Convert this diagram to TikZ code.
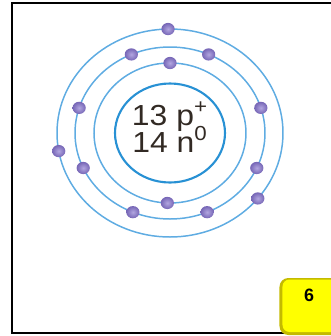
\documentclass[tikz,border=0pt]{standalone}
\usepackage{fontspec}
\setmainfont{Liberation Sans}

\definecolor{shellblue}{RGB}{95,172,226}
\definecolor{coreblue}{RGB}{40,145,212}
\definecolor{electronin}{RGB}{178,166,224}
\definecolor{electronout}{RGB}{118,102,182}
\definecolor{tagyellow}{RGB}{255,255,0}
\definecolor{tagedge}{RGB}{196,186,0}
\definecolor{inktext}{RGB}{50,42,36}

\begin{document}
\begin{tikzpicture}[
              x=0.02cm,y=0.02cm,
              shell/.style={
                  draw=shellblue,
                  line width=0.85pt,
                },
              electron/.style={
                  circle,
                  inner sep=0pt,
                  minimum size=0.245cm,
                  xscale=1.08,
                  shading=radial,
                  inner color=electronin,
                  outer color=electronout,
                },
              count/.style={
                  anchor=base,
                  xscale=1.1,
                  text=inktext,
                  font=\fontsize{16.5}{16}\selectfont,
                }
            ]
            \clip (-170,133) rectangle (161,-203);
            \draw[line width=1.1pt] (-158,130) rectangle (190,-200);

            \coordinate (core) at (0,0);
            \draw[draw=coreblue,line width=1.2pt] (core) ellipse [x radius=55,y radius=49.5];
            \draw[shell] (core) ellipse [x radius=76,y radius=70];
            \draw[shell] (core) ellipse [x radius=95,y radius=86];
            \draw[shell] (core) ellipse [x radius=113,y radius=104];

            \foreach \Angle [count=\Value] in {90,268}
            \node[electron] (k\Value) at (\Angle:76 and 70) {};
            \foreach \Angle [count=\Value] in {17,66,114,163,204,247,293,336}
            \node[electron] (l\Value) at (\Angle:95 and 86) {};
            \foreach \Angle [count=\Value] in {91,190,321}
            \node[electron] (m\Value) at (\Angle:113 and 104) {};

            \node[count] (protons) at (0,8) {13 p\textsuperscript{+}};
            \node[count] (neutrons) at (0,-19) {14 n\textsuperscript{0}};

            \fill[tagedge,rounded corners=5] (109.5,-145) rectangle (190,-202);
            \fill[tagyellow,rounded corners=4] (112.5,-146.5) rectangle (190,-199);
            \node[font=\bfseries\fontsize{10.2}{10}\selectfont] (tag) at (139,-162) {6};
          \end{tikzpicture}
\end{document}
